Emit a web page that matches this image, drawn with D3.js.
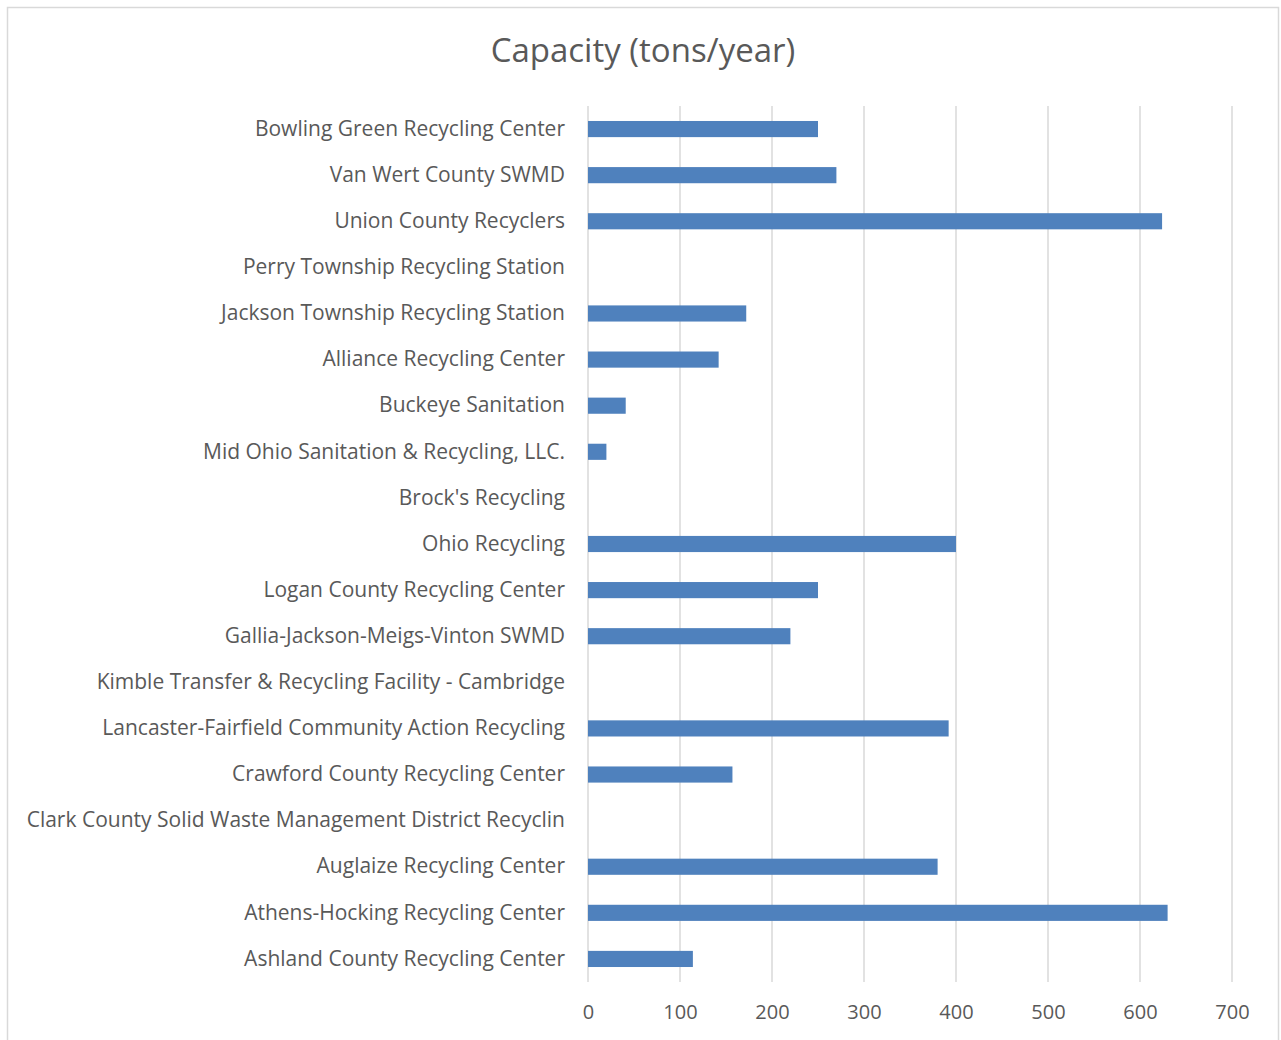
<!DOCTYPE html>
<html>
<head>
<meta charset="utf-8">
<script src="https://cdn.jsdelivr.net/npm/d3@7"></script>
<style>
  body { margin: 0; background: #fff; }
  text { font-family: "Open Sans", "Noto Sans", sans-serif; fill: #595959; }
</style>
</head>
<body>
<div id="chart"></div>
<script>
var facilities = [
  "Bowling Green Recycling Center",
  "Van Wert County SWMD",
  "Union County Recyclers",
  "Perry Township Recycling Station",
  "Jackson Township Recycling Station",
  "Alliance Recycling Center",
  "Buckeye Sanitation",
  "Mid Ohio Sanitation & Recycling, LLC.",
  "Brock's Recycling",
  "Ohio Recycling",
  "Logan County Recycling Center",
  "Gallia-Jackson-Meigs-Vinton SWMD",
  "Kimble Transfer & Recycling Facility - Cambridge",
  "Lancaster-Fairfield Community Action Recycling",
  "Crawford County Recycling Center",
  "Clark County Solid Waste Management District Recyclin",
  "Auglaize Recycling Center",
  "Athens-Hocking Recycling Center",
  "Ashland County Recycling Center"
];
var capacity = [250, 270, 624, 0, 172, 142, 41, 20, 0, 400, 250, 220, 0, 392, 157, 0, 380, 630, 114];
var xTicks = [0, 100, 200, 300, 400, 500, 600, 700];

var svgWidth = 1281;
var svgHeight = 1040;

var svg = d3.select("#chart")
  .append("svg")
  .attr("width", svgWidth)
  .attr("height", svgHeight);

// chart border
svg.append("rect")
  .attr("x", 7.5)
  .attr("y", 7.5)
  .attr("width", 1271)
  .attr("height", 1040)
  .attr("fill", "none")
  .attr("stroke", "#d9d9d9")
  .attr("stroke-width", 1.5);

svg.append("text")
  .attr("x", 643)
  .attr("y", 62)
  .attr("text-anchor", "middle")
  .attr("font-size", "33px")
  .text("Capacity (tons/year)");

var xScale = d3.scaleLinear()
  .domain([0, 700])
  .range([588, 1232]);

var yScale = d3.scaleBand()
  .domain(facilities)
  .range([106, 982])
  .paddingInner(0.65)
  .paddingOuter(0.325);

// gridlines
svg.append("g")
  .selectAll("line")
  .data(xTicks)
  .enter()
  .append("line")
  .attr("x1", d => xScale(d))
  .attr("x2", d => xScale(d))
  .attr("y1", 106)
  .attr("y2", 982)
  .attr("stroke", "#d9d9d9")
  .attr("stroke-width", 1.5);

// x tick labels
var xAxis = d3.axisBottom(xScale)
  .tickValues(xTicks)
  .tickSize(0)
  .tickPadding(0);

var xAxisGroup = svg.append("g")
  .attr("transform", "translate(0, 1019)")
  .call(xAxis);
xAxisGroup.select(".domain").remove();
xAxisGroup.selectAll("text")
  .attr("dy", 0)
  .attr("font-size", "20px")
  .style("font-family", "\"Open Sans\", sans-serif")
  .attr("fill", "#595959");

// bars
svg.append("g")
  .selectAll("rect")
  .data(facilities)
  .enter()
  .append("rect")
  .attr("x", xScale(0))
  .attr("y", d => yScale(d))
  .attr("width", (d, i) => xScale(capacity[i]) - xScale(0))
  .attr("height", yScale.bandwidth())
  .attr("fill", "#4f81bd");

// category labels
var yAxis = d3.axisLeft(yScale)
  .tickSize(0)
  .tickPadding(23);

var yAxisGroup = svg.append("g")
  .attr("transform", `translate(${xScale(0)}, 0)`)
  .call(yAxis);
yAxisGroup.select(".domain").remove();
yAxisGroup.selectAll("text")
  .attr("font-size", "21px")
  .style("font-family", "\"Open Sans\", sans-serif")
  .attr("fill", "#595959");
</script>
</body>
</html>
